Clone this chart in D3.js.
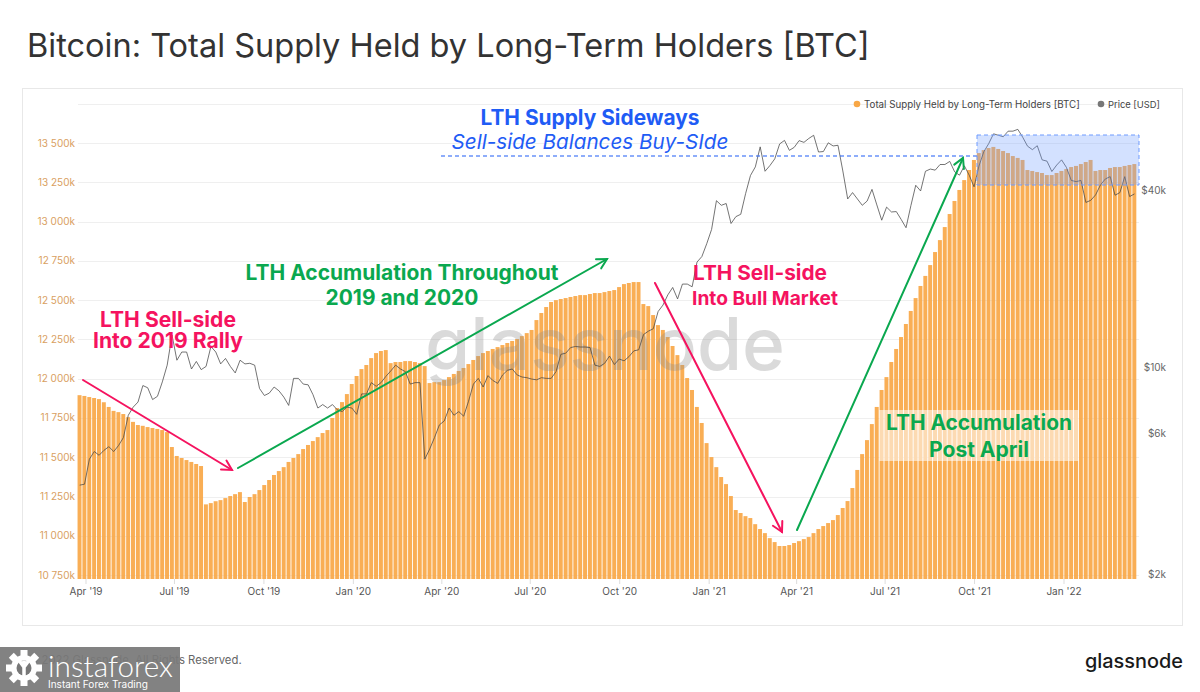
<!DOCTYPE html>
<html><head><meta charset="utf-8">
<script src="https://cdn.jsdelivr.net/npm/d3@7"></script>
<style>body{margin:0;background:#fff;} svg{display:block;font-family:Inter,"Noto Sans",sans-serif;}</style>
</head><body><svg id="c" width="1200" height="692"></svg>
<script>
// ---------------- DATA ----------------
const startDate = "2019-03-23";   // first bar date
const stepDays = 5;               // each bar/point spans 5 days
const supply = [
11895,11890,11883,11877,11870,11850,11820,11795,11787,11775,
11755,11725,11705,11700,11692,11686,11680,11673,11660,11565,
11508,11495,11482,11470,11457,11444,11200,11208,11220,11227,
11240,11253,11265,11278,11215,11247,11265,11291,11323,11355,
11387,11412,11437,11470,11495,11520,11552,11578,11603,11628,
11654,11673,11750,11813,11851,11902,11966,12017,12061,12087,
12131,12163,12176,12182,12099,12106,12106,12112,12112,12106,
12099,12080,11972,11978,11978,11991,12010,12030,12049,12068,
12093,12119,12144,12163,12176,12189,12201,12214,12227,12240,
12252,12271,12290,12310,12373,12418,12456,12488,12500,12507,
12513,12520,12526,12532,12532,12539,12545,12545,12551,12558,
12564,12583,12602,12609,12615,12615,12475,12462,12405,12341,
12310,12265,12208,12150,12087,12004,11928,11820,11718,11590,
11501,11437,11374,11329,11253,11164,11145,11125,11113,11074,
11043,11017,10985,10960,10935,10935,10941,10954,10966,10979,
10992,11017,11043,11062,11081,11100,11132,11177,11221,11304,
11419,11520,11609,11711,11820,11928,12010,12106,12189,12265,
12348,12431,12513,12590,12654,12723,12806,12882,12965,13048,
13131,13201,13264,13328,13392,13436,13455,13468,13475,13462,
13449,13436,13417,13405,13392,13328,13322,13315,13309,13296,
13296,13309,13322,13334,13347,13354,13366,13379,13392,13322,
13328,13328,13341,13347,13347,13354,13360,13366];
const price = [
4000,4030,4900,5200,5050,5250,5400,5200,5450,5800,
6900,7350,7650,8700,8550,7800,8000,8950,10200,12900,
10600,11300,11300,9900,10500,9850,10100,11800,11300,10300,
10750,10100,9600,10600,10300,10350,10200,8500,8050,8200,
8600,8350,7950,7450,9200,9200,8800,8750,8100,7300,
7500,7300,7500,7200,7100,7350,7300,6950,8150,8150,
8900,8650,8900,9350,9750,10200,9900,9700,8800,8900,
8900,4900,5300,5800,6400,6600,7300,6900,7100,6850,
7700,8800,9200,8600,9400,9050,8850,9450,9800,9900,
9450,9300,9250,9150,9100,9250,9200,9200,9700,11100,
11200,11700,11800,11750,11750,11700,10200,10100,10350,10950,
10250,10700,10550,10900,11400,11500,12950,13300,13550,15500,
16300,17650,18700,17100,19200,19200,18800,22800,23800,26300,
29400,36800,35500,36000,30800,32500,33100,38900,44800,47900,
56000,46300,48400,51000,57300,58900,54500,55800,58800,58000,
59800,61300,53800,54000,57800,56400,56700,46400,37300,39200,
37300,35500,36700,40200,35600,31600,35000,33700,33800,31800,
29800,35400,41500,39700,46300,47100,46700,48800,48800,50000,
46100,44900,48300,44900,41000,48200,53900,57400,62000,61300,
60600,63300,63300,64200,60400,56300,54800,56500,50600,50100,
46200,48600,50600,47700,43100,42700,43100,36300,36900,38500,
41600,43600,44400,38400,39200,44400,38000,38800];
const leftTicks = [10750,11000,11250,11500,11750,12000,12250,12500,12750,13000,13250,13500];
const rightTicks = [2000,6000,10000,40000];
const rightTickLabels = ["$2k","$6k","$10k","$40k"];
const xTickDates = ["2019-04-01","2019-07-01","2019-10-01","2020-01-01","2020-04-01","2020-07-01","2020-10-01","2021-01-01","2021-04-01","2021-07-01","2021-10-01","2022-01-01"];
const xTickLabels = ["Apr '19","Jul '19","Oct '19","Jan '20","Apr '20","Jul '20","Oct '20","Jan '21","Apr '21","Jul '21","Oct '21","Jan '22"];
const titleText = "Bitcoin: Total Supply Held by Long-Term Holders [BTC]";
const legendLabels = ["Total Supply Held by Long-Term Holders [BTC]","Price [USD]"];

// ---------------- SETUP ----------------
const svg = d3.select("#c");
const DAY = 86400000;
const t0 = new Date(startDate + "T00:00:00Z").getTime();
const x = d3.scaleUtc().domain([Date.UTC(2019,3,1), Date.UTC(2022,0,1)]).range([86,1064]);
const y = d3.scaleLinear().domain([10725,13500]).range([579,143]);
const yp = d3.scaleLog().domain([2000,40000]).range([574,190]);
const plotL = 78, plotR = 1139, plotB = 579;
const ORANGE = "#f8a746", RED = "#f5135f", GREEN = "#0aa84f", BLUE = "#1f5cf5";

function fit(sel, w){ const cw = sel.node().getComputedTextLength(); const fs = parseFloat(sel.attr("font-size")); sel.attr("font-size", fs*w/cw); return sel; }

// Title
fit(svg.append("text").attr("x",27).attr("y",57).attr("font-size",28).attr("fill","#333").text(titleText), 843);

// Panel
svg.append("rect").attr("x",22.5).attr("y",88.5).attr("width",1160).attr("height",537).attr("fill","none").attr("stroke","#e8e8e8");

// Grid + left axis
const fmt = d3.formatLocale({decimal:".", thousands:" ", grouping:[3], currency:["",""]}).format(",");
svg.append("g").selectAll("line").data(leftTicks.concat([13750])).join("line")
  .attr("x1",plotL).attr("x2",plotR).attr("y1",d=>Math.round(y(d))+0.5).attr("y2",d=>Math.round(y(d))+0.5)
  .attr("stroke","#efefef");
svg.append("g").selectAll("text").data(leftTicks).join("text")
  .attr("x",75).attr("y",d=>y(d)+3.5).attr("text-anchor","end").attr("font-size",10).attr("fill","#d9a061")
  .text(d=>fmt(d)+"k");

// Bars
const bars = supply.map((v,i)=>({d0:t0+i*stepDays*DAY, d1:t0+(i+1)*stepDays*DAY, v}));
svg.append("g").selectAll("rect").data(bars).join("rect")
  .attr("x",d=>x(d.d0)+0.3).attr("width",d=>Math.max(0.5,x(d.d1)-x(d.d0)-0.9))
  .attr("y",d=>y(d.v)).attr("height",d=>plotB-y(d.v)).attr("fill",ORANGE).attr("opacity",0.92);

// Watermark
fit(svg.append("text").attr("x",425).attr("y",370).attr("font-size",80).attr("font-weight",500)
  .attr("fill","rgba(140,140,140,0.32)").text("glassnode"), 360);

// Price line
const pts = price.map((p,i)=>[x(t0+(i*stepDays+stepDays/2)*DAY), yp(p)]);
svg.append("path").attr("d",d3.line()(pts)).attr("fill","none").attr("stroke","rgba(70,70,70,0.75)").attr("stroke-width",1);

// Right axis
svg.append("g").selectAll("text").data(rightTicks).join("text")
  .attr("x",1166).attr("y",d=>yp(d)+3.5).attr("text-anchor","end").attr("font-size",10).attr("fill","#666")
  .text((d,i)=>rightTickLabels[i]);

// X axis
const xt = xTickDates.map(s=>new Date(s+"T00:00:00Z"));
svg.append("g").selectAll("line").data(xt).join("line")
  .attr("x1",d=>x(d)).attr("x2",d=>x(d)).attr("y1",plotB).attr("y2",plotB+5).attr("stroke","#ddd");
svg.append("g").selectAll("text").data(xt).join("text")
  .attr("x",d=>x(d)).attr("y",595).attr("text-anchor","middle").attr("font-size",10).attr("fill","#555")
  .text((d,i)=>xTickLabels[i]);

// Legend
svg.append("circle").attr("cx",857).attr("cy",104).attr("r",3.3).attr("fill",ORANGE);
fit(svg.append("text").attr("x",864).attr("y",107.5).attr("font-size",9).attr("fill","#444").text(legendLabels[0]),216);
svg.append("circle").attr("cx",1101).attr("cy",104).attr("r",3.3).attr("fill","#777");
fit(svg.append("text").attr("x",1108).attr("y",107.5).attr("font-size",9).attr("fill","#444").text(legendLabels[1]),52);

// Annotations
function arrow(x1,y1,x2,y2,color){
  const g = svg.append("g").attr("stroke",color).attr("stroke-width",2).attr("fill","none").attr("stroke-linecap","round");
  g.append("line").attr("x1",x1).attr("y1",y1).attr("x2",x2).attr("y2",y2);
  const a = Math.atan2(y2-y1,x2-x1), L=11, s=0.5;
  g.append("path").attr("d",`M${x2-L*Math.cos(a-s)},${y2-L*Math.sin(a-s)}L${x2},${y2}L${x2-L*Math.cos(a+s)},${y2-L*Math.sin(a+s)}`);
}
function label(txt,cx,by,w,color,opts={}){
  const t = svg.append("text").attr("x",cx).attr("y",by).attr("text-anchor","middle").attr("font-size",19)
    .attr("font-weight",opts.weight||700).attr("font-style",opts.italic?"italic":"normal").attr("fill",color).text(txt);
  fit(t,w);
}
// blue sideways
svg.append("line").attr("x1",441).attr("x2",977).attr("y1",156).attr("y2",156).attr("stroke",BLUE).attr("stroke-width",1.2).attr("stroke-dasharray","4,3");
svg.append("rect").attr("x",977).attr("y",135).attr("width",162).attr("height",50).attr("fill","rgba(110,155,255,0.3)").attr("stroke","#6f9bff").attr("stroke-dasharray","4,3");
label("LTH Supply Sideways",590,125,219,BLUE);
label("Sell-side Balances Buy-SIde",590,149,277,BLUE,{weight:400,italic:true});

arrow(83,380,232,470,RED);
label("LTH Sell-side",168,327,136,RED);
label("Into 2019 Rally",168,348,150,RED);

arrow(238,468,607,259,GREEN);
label("LTH Accumulation Throughout",402,280,313,GREEN);
label("2019 and 2020",402,305,153,GREEN);

arrow(655,283,782,532,RED);
label("LTH Sell-side",760,280,134,RED);
label("Into Bull Market",765,305,146,RED);

arrow(797,530,963,158,GREEN);
svg.append("rect").attr("x",879).attr("y",410).attr("width",200).attr("height",51).attr("fill","rgba(255,255,255,0.55)");
label("LTH Accumulation",979,430,186,GREEN);
label("Post April",979,457,100,GREEN);

// Footer
fit(svg.append("text").attr("x",28).attr("y",664).attr("font-size",11.5).attr("fill","#666").text("© 2022 Glassnode. All Rights Reserved."),214);
fit(svg.append("text").attr("x",1085).attr("y",668).attr("font-size",21).attr("font-weight",500).attr("fill","#1a1a1a").text("glassnode"),98);

// Instaforex badge
svg.append("rect").attr("x",0).attr("y",647).attr("width",180).attr("height",45).attr("fill","rgba(120,120,120,0.93)");
const gear = svg.append("g").attr("transform","translate(24,668)").attr("fill","#fff");
d3.range(8).forEach(k=>gear.append("rect").attr("x",-3.5).attr("y",-18).attr("width",7).attr("height",8).attr("transform",`rotate(${k*45})`));
gear.append("circle").attr("r",13);
gear.append("circle").attr("r",7.5).attr("fill","#787878");
gear.append("path").attr("d","M-6,-9L0,-1L6,-9M0,-1L0,12").attr("stroke","#fff").attr("stroke-width",3.5).attr("fill","none");
gear.append("circle").attr("cy",-5).attr("r",2.5).attr("fill","#fff");
fit(svg.append("text").attr("x",48).attr("y",677).attr("font-size",32).attr("font-family","Lato").attr("font-weight",300).attr("fill","#fff").text("instaforex"),125);
fit(svg.append("text").attr("x",48).attr("y",687.5).attr("font-size",10.5).attr("fill","#fff").text("Instant Forex Trading"),100);
</script></body></html>
